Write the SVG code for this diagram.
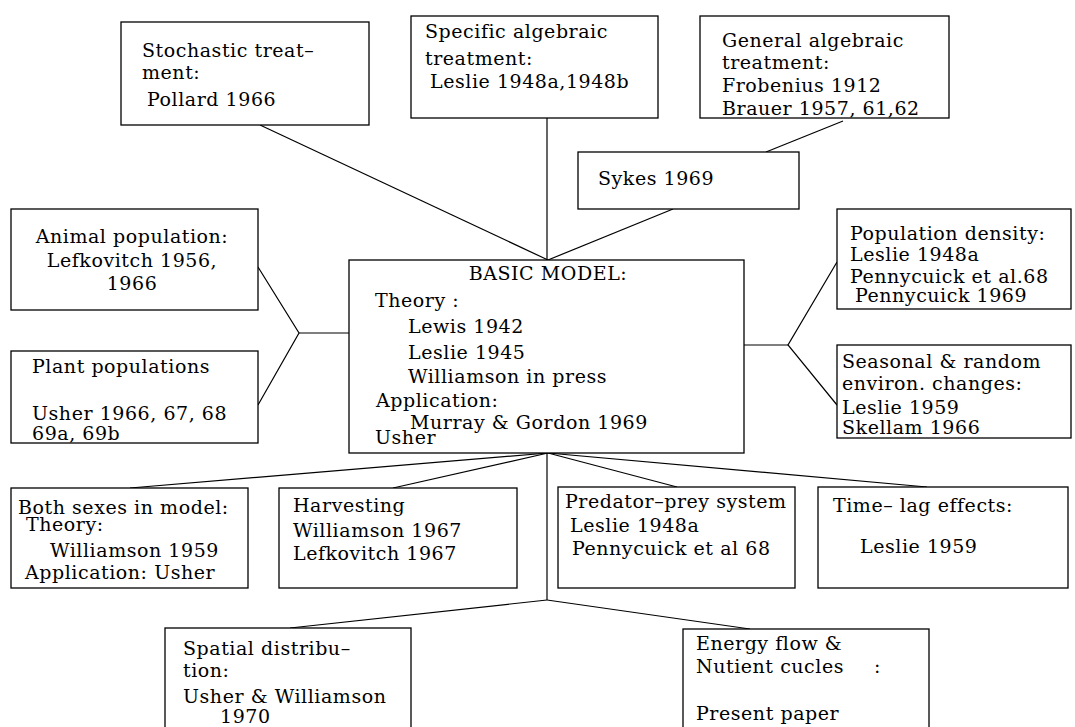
<svg xmlns="http://www.w3.org/2000/svg" width="1075" height="727" viewBox="0 0 1075 727">
<style>
rect{fill:#fff;stroke:#000;stroke-width:1.3}
text{font-family:"DejaVu Serif","Liberation Serif",serif;font-size:19px;fill:#000;letter-spacing:0.55px}
.c{text-anchor:middle}
#connectors line,#connectors polyline{stroke:#000;stroke-width:1.2;fill:none}
</style>
<rect x="0" y="0" width="1075" height="727" style="stroke:none"/>
<g id="connectors">
<line x1="260" y1="125" x2="548" y2="260"/>
<line x1="547" y1="118" x2="547" y2="260"/>
<line x1="673" y1="209" x2="548" y2="260"/>
<line x1="766" y1="152" x2="843" y2="121"/>
<polyline points="258,267 299,333 258,405"/>
<line x1="299" y1="333" x2="349" y2="333"/>
<polyline points="837,262 788,345 837,405"/>
<line x1="744" y1="345" x2="788" y2="345"/>
<line x1="548" y1="453" x2="130" y2="488"/>
<line x1="548" y1="453" x2="393" y2="488"/>
<line x1="548" y1="453" x2="677" y2="487"/>
<line x1="548" y1="453" x2="927" y2="487"/>
<line x1="547" y1="453" x2="547" y2="600"/>
<line x1="547" y1="600" x2="290" y2="628"/>
<line x1="547" y1="600" x2="750" y2="629"/>
</g>
<g id="stochastic">
<rect x="121" y="22" width="248" height="103"/>
<text x="142" y="57">Stochastic treat–</text>
<text x="142" y="79">ment:</text>
<text x="147" y="106">Pollard 1966</text>
</g>
<g id="specific">
<rect x="411" y="16" width="247" height="102"/>
<text x="425" y="38">Specific algebraic</text>
<text x="425" y="65">treatment:</text>
<text x="430" y="88">Leslie 1948a,1948b</text>
</g>
<g id="general">
<rect x="700" y="16" width="249" height="102"/>
<text x="722" y="47">General algebraic</text>
<text x="722" y="69">treatment:</text>
<text x="722" y="92">Frobenius 1912</text>
<text x="722" y="115">Brauer 1957, 61,62</text>
</g>
<g id="sykes">
<rect x="578" y="152" width="221" height="57"/>
<text x="598" y="185">Sykes 1969</text>
</g>
<g id="animal">
<rect x="11" y="209" width="247" height="101"/>
<text class="c" x="132" y="243">Animal population:</text>
<text class="c" x="132" y="267">Lefkovitch 1956,</text>
<text class="c" x="132" y="290">1966</text>
</g>
<g id="plant">
<rect x="11" y="351" width="247" height="92"/>
<text x="32" y="373">Plant populations</text>
<text x="32" y="420">Usher 1966, 67, 68</text>
<text x="32" y="440">69a, 69b</text>
</g>
<g id="basic">
<rect x="349" y="260" width="395" height="193"/>
<text class="c" x="548" y="280">BASIC MODEL:</text>
<text x="375" y="307">Theory :</text>
<text x="408" y="333">Lewis 1942</text>
<text x="408" y="359">Leslie 1945</text>
<text x="408" y="383">Williamson in press</text>
<text x="376" y="407">Application:</text>
<text x="410" y="429">Murray &amp; Gordon 1969</text>
<text x="375" y="444">Usher</text>
</g>
<g id="density">
<rect x="837" y="209" width="234" height="100"/>
<text x="850" y="240">Population density:</text>
<text x="850" y="261">Leslie 1948a</text>
<text x="850" y="283">Pennycuick et al.68</text>
<text x="855" y="302">Pennycuick 1969</text>
</g>
<g id="seasonal">
<rect x="837" y="345" width="234" height="93"/>
<text x="842" y="368">Seasonal &amp; random</text>
<text x="842" y="390">environ. changes:</text>
<text x="842" y="414">Leslie 1959</text>
<text x="842" y="434">Skellam 1966</text>
</g>
<g id="sexes">
<rect x="11" y="488" width="237" height="100"/>
<text x="18" y="514">Both sexes in model:</text>
<text x="26" y="531">Theory:</text>
<text x="50" y="557">Williamson 1959</text>
<text x="25" y="579">Application: Usher</text>
</g>
<g id="harvesting">
<rect x="279" y="488" width="238" height="100"/>
<text x="293" y="512">Harvesting</text>
<text x="293" y="537">Williamson 1967</text>
<text x="293" y="560">Lefkovitch 1967</text>
</g>
<g id="predator">
<rect x="558" y="487" width="237" height="101"/>
<text x="565" y="508">Predator–prey system</text>
<text x="570" y="532">Leslie 1948a</text>
<text x="572" y="555">Pennycuick et al 68</text>
</g>
<g id="timelag">
<rect x="818" y="487" width="250" height="101"/>
<text x="833" y="512">Time– lag effects:</text>
<text x="860" y="553">Leslie 1959</text>
</g>
<g id="spatial">
<rect x="165" y="628" width="246" height="110"/>
<text x="183" y="655">Spatial distribu–</text>
<text x="183" y="677">tion:</text>
<text x="183" y="703">Usher &amp; Williamson</text>
<text x="220" y="723">1970</text>
</g>
<g id="energy">
<rect x="683" y="629" width="246" height="110"/>
<text x="696" y="650">Energy flow &amp;</text>
<text x="696" y="673">Nutient cucles</text>
<text x="874" y="673">:</text>
<text x="696" y="720">Present paper</text>
</g>
</svg>
